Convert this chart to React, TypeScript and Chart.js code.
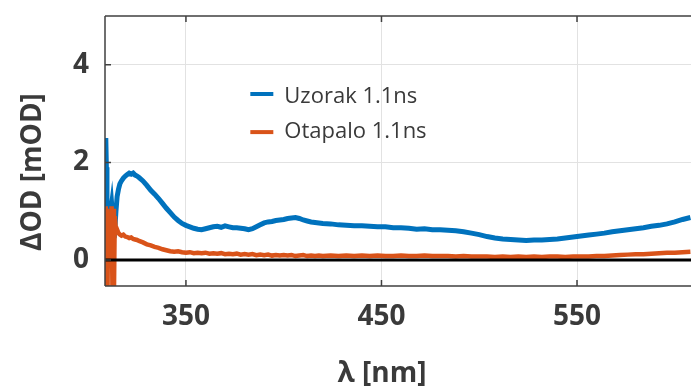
import React, { useEffect, useRef } from "react";
import { Chart, registerables } from "chart.js";

Chart.register(...registerables);

// Wavelength grid (nm)
const wavelengths = [
  309.0, 309.3, 309.6, 309.9, 310.2, 310.6, 311.0, 311.5, 312.0, 312.4, 312.8, 313.2, 313.6, 314.2, 314.8,
  315.5, 316.2, 317, 318, 319, 320, 321, 322, 323, 324, 325,
  326, 328, 330, 332, 334, 336, 338, 340, 342, 344, 346, 348, 350, 352, 354, 356, 358, 360,
  362, 364, 366, 368, 370, 372, 374, 376, 378, 380, 382, 384, 386, 388, 390, 392, 394, 396,
  398, 400, 402, 404, 406, 408, 410, 412, 414, 416, 418, 420,
  424, 428, 432, 436, 440, 444, 448, 452, 456, 460, 464, 468, 472, 476, 480, 484, 488, 492,
  496, 500, 504, 508, 512, 516, 520, 524, 528, 532, 536, 540, 544, 548, 552, 556, 560, 564,
  568, 572, 576, 580, 584, 588, 592, 596, 600, 604, 608,
];

// ΔOD (mOD) of "Uzorak 1.1ns"
const uzorak = [
  2.5, 1.9, 1.2, 0.8, 0.7, 0.95, 0.75, 1.0, 1.15, 0.95, 0.8, 0.65, 0.62, 1.0, 1.3,
  1.45, 1.56, 1.62, 1.68, 1.72, 1.75, 1.78, 1.76, 1.78, 1.74, 1.72,
  1.69, 1.62, 1.53, 1.43, 1.35, 1.26, 1.16, 1.06, 0.97, 0.88, 0.81, 0.75, 0.71, 0.68, 0.65, 0.63, 0.62, 0.64,
  0.66, 0.68, 0.69, 0.67, 0.7, 0.68, 0.66, 0.66, 0.65, 0.64, 0.62, 0.64, 0.68, 0.72, 0.76, 0.78, 0.79, 0.81,
  0.82, 0.83, 0.85, 0.86, 0.87, 0.85, 0.82, 0.8, 0.78, 0.77, 0.76, 0.75,
  0.74, 0.72, 0.71, 0.7, 0.7, 0.69, 0.68, 0.68, 0.66, 0.66, 0.65, 0.63, 0.64, 0.62, 0.62, 0.61, 0.6, 0.58,
  0.55, 0.52, 0.48, 0.45, 0.43, 0.42, 0.41, 0.4, 0.41, 0.41, 0.42, 0.43, 0.45, 0.47, 0.49, 0.51, 0.53, 0.55,
  0.58, 0.6, 0.62, 0.64, 0.66, 0.69, 0.71, 0.74, 0.78, 0.83, 0.87,
];

// ΔOD (mOD) of "Otapalo 1.1ns"
const otapalo = [
  1.1, -0.6, 1.05, -0.6, 0.9, 0.3, 0.85, 0.35, 1.1, -0.6, 1.05, -0.6, 0.9, 0.6, 0.62,
  0.55, 0.52, 0.5, 0.52, 0.48, 0.47, 0.45, 0.46, 0.43, 0.42, 0.41,
  0.39, 0.36, 0.32, 0.3, 0.27, 0.25, 0.22, 0.2, 0.18, 0.17, 0.18, 0.16, 0.15, 0.16, 0.14, 0.15, 0.14, 0.15,
  0.13, 0.14, 0.13, 0.14, 0.12, 0.13, 0.12, 0.13, 0.11, 0.12, 0.11, 0.12, 0.1, 0.11, 0.1, 0.11, 0.09, 0.1,
  0.09, 0.1, 0.09, 0.1, 0.08, 0.09, 0.1, 0.08, 0.09, 0.08, 0.09, 0.08,
  0.09, 0.08, 0.09, 0.08, 0.09, 0.08, 0.09, 0.08, 0.08, 0.09, 0.08, 0.08, 0.09, 0.08, 0.08, 0.08, 0.07, 0.08,
  0.07, 0.07, 0.07, 0.06, 0.07, 0.06, 0.07, 0.06, 0.07, 0.06, 0.07, 0.07, 0.06, 0.07, 0.07, 0.07, 0.08, 0.08,
  0.09, 0.1, 0.11, 0.12, 0.12, 0.13, 0.14, 0.15, 0.15, 0.16, 0.17,
];

const seriesNames = ["Uzorak 1.1ns", "Otapalo 1.1ns"];
const xTicks = [350, 450, 550];
const yTicks = [0, 2, 4];
const xRange = [308.6, 608.3];
const yRange = [-0.533, 5];
const zeroLine = [0, 0];
const xTitle = "λ [nm]";
const yTitle = "ΔOD [mOD]";

const BLUE = "#0072BD";
const ORANGE = "#D95319";
const TEXT = "#3a3a3a";
const FRAME = "#404040";
const FONT = "'Open Sans', 'Noto Sans', sans-serif";

export default function App() {
  const ref = useRef<HTMLCanvasElement | null>(null);

  useEffect(() => {
    if (!ref.current) return;

    const framePlugin = {
      id: "frame",
      afterDatasetsDraw(chart: any) {
        const { ctx, chartArea } = chart;
        const { left, right, top, bottom } = chartArea;
        const xs = chart.scales.x;
        const ys = chart.scales.y;
        ctx.save();
        ctx.strokeStyle = FRAME;
        ctx.lineWidth = 1.5;
        ctx.beginPath();
        ctx.moveTo(left, top);
        ctx.lineTo(right + 2, top);
        ctx.moveTo(left, top);
        ctx.lineTo(left, bottom);
        ctx.moveTo(left, bottom);
        ctx.lineTo(right + 2, bottom);
        const tl = 6;
        xTicks.forEach((v) => {
          const px = xs.getPixelForValue(v);
          ctx.moveTo(px, bottom);
          ctx.lineTo(px, bottom - tl);
          ctx.moveTo(px, top);
          ctx.lineTo(px, top + tl);
        });
        yTicks.forEach((v) => {
          const py = ys.getPixelForValue(v);
          ctx.moveTo(left, py);
          ctx.lineTo(left + tl, py);
        });
        ctx.stroke();
        ctx.restore();
      },
    };

    const decoPlugin = {
      id: "deco",
      afterDraw(chart: any) {
        const { ctx, chartArea } = chart;
        const { left, top, right, bottom } = chartArea;
        const w = right - left;
        const h = bottom - top;
        ctx.save();
        // legend
        const lx = left + w * 0.248;
        const rows = [top + h * 0.30, top + h * 0.43];
        const colors = [BLUE, ORANGE];
        ctx.font = `22px ${FONT}`;
        ctx.textBaseline = "middle";
        ctx.textAlign = "left";
        seriesNames.forEach((name, i) => {
          const ly = rows[i] - (i === 0 ? 3 : 0);
          ctx.strokeStyle = colors[i];
          ctx.lineWidth = 4;
          ctx.beginPath();
          ctx.moveTo(lx, ly);
          ctx.lineTo(lx + 23, ly);
          ctx.stroke();
          ctx.fillStyle = TEXT;
          ctx.fillText(name, lx + 34, rows[i]);
        });
        // axis titles
        ctx.font = `bold 28px ${FONT}`;
        ctx.fillStyle = TEXT;
        ctx.textAlign = "center";
        ctx.textBaseline = "middle";
        ctx.fillText(xTitle, 382, 374);
        ctx.translate(33, 172);
        ctx.rotate(-Math.PI / 2);
        ctx.fillText(yTitle, 0, 0);
        ctx.restore();
      },
    };

    const chart = new Chart(ref.current, {
      type: "line",
      data: {
        datasets: [
          {
            label: seriesNames[0],
            data: wavelengths.map((x, i) => ({ x, y: uzorak[i] })),
            borderColor: BLUE,
            backgroundColor: BLUE,
            borderWidth: 5,
            pointRadius: 0,
            tension: 0,
            order: 2,
          },
          {
            label: seriesNames[1],
            data: wavelengths.map((x, i) => ({ x, y: otapalo[i] })),
            borderColor: ORANGE,
            backgroundColor: ORANGE,
            borderWidth: 4.5,
            pointRadius: 0,
            tension: 0,
            order: 1,
          },
          {
            label: "zero",
            data: xRange.map((x, i) => ({ x, y: zeroLine[i] })),
            borderColor: "#000000",
            borderWidth: 3,
            pointRadius: 0,
            order: 0,
          },
        ],
      },
      options: {
        animation: false,
        responsive: false,
        maintainAspectRatio: false,
        layout: { padding: { top: 16, right: 0, left: 0, bottom: 0 } },
        plugins: {
          legend: { display: false },
          tooltip: { enabled: false },
          title: { display: false },
        },
        scales: {
          x: {
            type: "linear",
            min: xRange[0],
            max: xRange[1],
            afterBuildTicks: (s: any) => {
              s.ticks = xTicks.map((value) => ({ value }));
            },
            afterFit: (s: any) => {
              s.height = 106;
              s.paddingLeft = 0;
              s.paddingRight = 0;
            },
            grid: { color: "#e2e2e2", lineWidth: 1, drawTicks: false },
            border: { display: false },
            ticks: {
              padding: 14,
              color: TEXT,
              autoSkip: false,
              maxRotation: 0,
              font: { family: FONT, size: 28, weight: "bold" },
            },
          },
          y: {
            type: "linear",
            min: yRange[0],
            max: yRange[1],
            afterBuildTicks: (s: any) => {
              s.ticks = yTicks.map((value) => ({ value }));
            },
            afterFit: (s: any) => {
              s.width = 105;
              s.paddingTop = 0;
              s.paddingBottom = 0;
            },
            grid: { color: "#e2e2e2", lineWidth: 1, drawTicks: false },
            border: { display: false },
            ticks: {
              padding: 16,
              color: TEXT,
              font: { family: FONT, size: 28, weight: "bold" },
            },
          },
        },
      },
      plugins: [framePlugin, decoPlugin],
    });

    return () => chart.destroy();
  }, []);

  return (
    <div style={{ position: "fixed", left: 0, top: 0, width: 691, height: 392, background: "#ffffff" }}>
      <canvas ref={ref} width={691} height={392} style={{ display: "block", width: 691, height: 392 }} />
    </div>
  );
}
